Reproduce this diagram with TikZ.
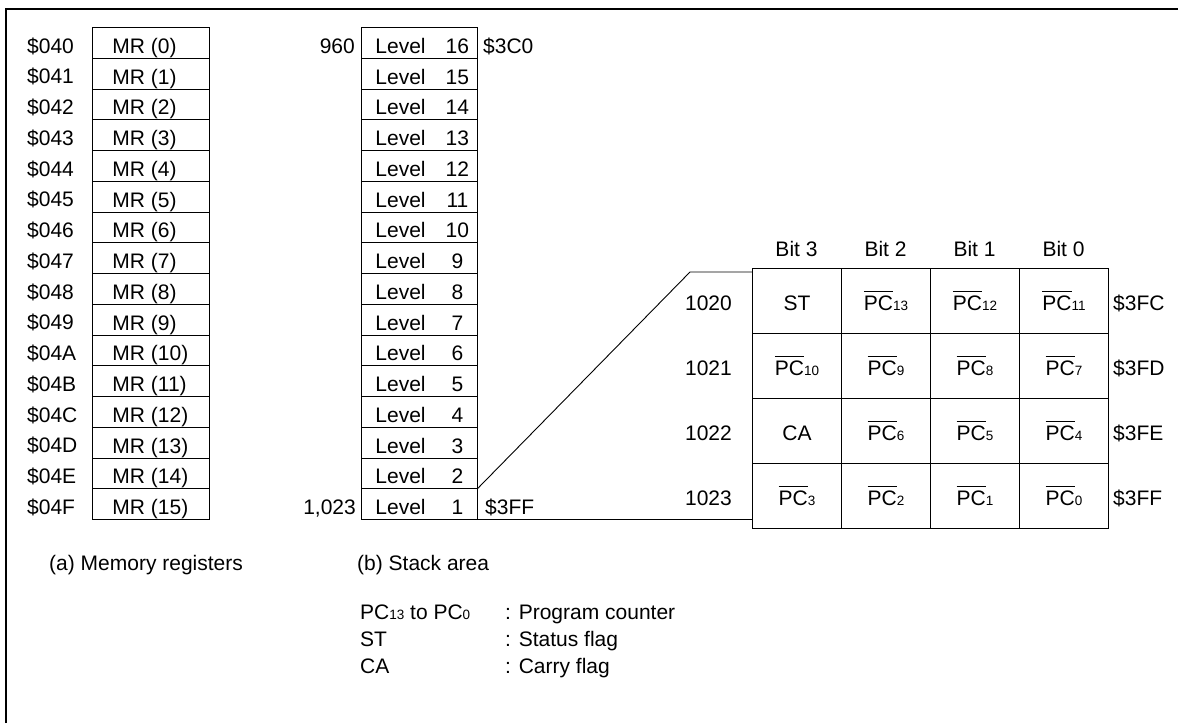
\documentclass[tikz,border=0pt]{standalone}
\usepackage{fontspec}
\setmainfont{Liberation Sans}
\newcommand\mainfs{\fontsize{21}{25}\selectfont}
\newcommand\subfs{\fontsize{13.5}{15}\selectfont}
\newcommand\pcb[1]{\mbox{\vbox{\hrule height 1pt\kern 3.5pt\hbox{PC}}{\subfs #1}}}
\newcommand\pcs[1]{PC{\subfs #1}}
\tikzset{
  cellline/.style={draw, line width=0.9pt, inner sep=0pt},
  mrcell/.style={cellline, text height=26pt, text depth=4.75pt, anchor=north west},
  lvcell/.style={cellline, text height=26pt, text depth=4.75pt, anchor=north west},
  bitcell/.style={cellline, text height=42pt, text depth=23pt, anchor=north west},
  lbl/.style={inner sep=0pt},
  conn/.style={line width=0.9pt},
  frameline/.style={line width=1.4pt}
}
\begin{document}
\begin{tikzpicture}[x=1pt,y=-1pt,font=\mainfs]
\useasboundingbox (0,0) rectangle (1178,723);
\draw[frameline] (6,723) -- (6,9) -- (1178,9);
% (a) memory registers
\foreach \i/\h in {0/0,1/1,2/2,3/3,4/4,5/5,6/6,7/7,8/8,9/9,10/A,11/B,12/C,13/D,14/E,15/F}{
  \pgfmathsetmacro\ytop{27+30.75*\i}
  \node[mrcell] (mr\i) at (92,\ytop) {\makebox[117pt][l]{\hspace{20pt}MR (\i)}};
  \node[lbl, anchor=base west] (ma\i) at (27,\ytop+26) {\$04\h};
}
% (b) stack area
\foreach \i in {0,...,15}{
  \pgfmathtruncatemacro\lev{16-\i}
  \pgfmathsetmacro\ytop{27+30.75*\i}
  \node[lvcell] (lv\lev) at (361,\ytop) {\makebox[116pt][l]{\hspace{14pt}\makebox[68pt][l]{Level}\makebox[28pt]{\lev}}};
}
\node[lbl, anchor=base east] (a960) at (355,53) {960};
\node[lbl, anchor=base east] (a1023) at (356,514.25) {1,023};
\node[lbl, anchor=base west] (h3c0) at (483,53) {\$3C0};
\node[lbl, anchor=base west] (h3ff) at (485,514.25) {\$3FF};
% bit table
\foreach \r/\ca/\cb/\cc/\cd in {0/ST/\pcb{13}/\pcb{12}/\pcb{11},
                               1/\pcb{10}/\pcb{9}/\pcb{8}/\pcb{7},
                               2/CA/\pcb{6}/\pcb{5}/\pcb{4},
                               3/\pcb{3}/\pcb{2}/\pcb{1}/\pcb{0}}{
  \pgfmathsetmacro\ytop{268+65*\r}
  \node[bitcell] (b\r0) at (752,\ytop) {\makebox[89pt]{\ca}};
  \node[bitcell] (b\r1) at (841,\ytop) {\makebox[89pt]{\cb}};
  \node[bitcell] (b\r2) at (930,\ytop) {\makebox[89pt]{\cc}};
  \node[bitcell] (b\r3) at (1019,\ytop) {\makebox[89pt]{\cd}};
}
\foreach \r/\d/\h in {0/1020/\$3FC,1/1021/\$3FD,2/1022/\$3FE,3/1023/\$3FF}{
  \pgfmathsetmacro\yb{268+65*\r+42}
  \node[lbl, anchor=base east] (d\d) at (732,\yb) {\d};
  \node[lbl, anchor=base west] (x\d) at (1113,\yb) {\h};
}
\node[lbl, anchor=base] (bit3) at (796.5,256) {Bit 3};
\node[lbl, anchor=base] (bit2) at (885.5,256) {Bit 2};
\node[lbl, anchor=base] (bit1) at (974.5,256) {Bit 1};
\node[lbl, anchor=base] (bit0) at (1063.5,256) {Bit 0};
% connectors
\coordinate (knee) at (690,272);
\draw[conn] (lv1.north east) -- (knee) -- (knee -| b00.west);
\draw[conn] (lv1.south east) -- (lv1.south east -| b30.west);
% captions
\node[lbl, anchor=base west] (capa) at (49,570) {(a) Memory registers};
\node[lbl, anchor=base west] (capb) at (357,570) {(b) Stack area};
\node[lbl, anchor=base west] (k1) at (360,619) {\pcs{13} to \pcs{0}};
\node[lbl, anchor=base west] (k2) at (360,646) {ST};
\node[lbl, anchor=base west] (k3) at (360,673) {CA};
\node[lbl, anchor=base west] (v1) at (505,619) {: Program counter};
\node[lbl, anchor=base west] (v2) at (505,646) {: Status flag};
\node[lbl, anchor=base west] (v3) at (505,673) {: Carry flag};
\end{tikzpicture}
\end{document}
